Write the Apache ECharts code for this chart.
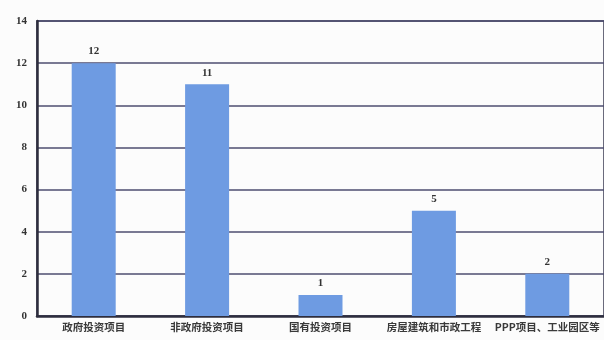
<!DOCTYPE html>
<html>
<head>
<meta charset="utf-8">
<script src="https://cdn.jsdelivr.net/npm/echarts@6/dist/echarts.min.js"></script>
<style>
  html, body { margin: 0; padding: 0; background: #fcfcfc; }
  #chart { width: 604px; height: 340px; }
</style>
</head>
<body>
<div id="chart"></div>
<script>
// Project counts by category
const categories = ['政府投资项目', '非政府投资项目', '国有投资项目', '房屋建筑和市政工程', 'PPP项目、工业园区等'];
const counts = [12, 11, 1, 5, 2];
const yTicks = [0, 2, 4, 6, 8, 10, 12, 14];

const chart = echarts.init(document.getElementById('chart'), null, { renderer: 'canvas' });

chart.setOption({
  backgroundColor: '#fcfcfc',
  animation: false,
  grid: {
    left: 37, right: -1, top: 21, bottom: 24,
    show: true,
    borderColor: '#3a3a52',
    borderWidth: 1.5,
    backgroundColor: 'transparent'
  },
  xAxis: {
    type: 'category',
    data: categories,
    axisLine: { lineStyle: { color: '#2e2e3e', width: 2.5 } },
    axisTick: { show: false },
    axisLabel: {
      color: '#3a3a3a',
      fontFamily: 'Noto Sans CJK SC',
      fontWeight: 'bold',
      fontSize: 10.5,
      margin: 6,
      interval: 0
    }
  },
  yAxis: {
    type: 'value',
    min: yTicks[0],
    max: yTicks[yTicks.length - 1],
    interval: 2,
    axisLine: { show: true, lineStyle: { color: '#2e2e3e', width: 2.5 } },
    axisTick: { show: false },
    axisLabel: {
      color: '#333',
      fontFamily: 'Liberation Serif',
      fontWeight: 'bold',
      fontSize: 11,
      margin: 10
    },
    splitLine: { lineStyle: { color: '#4e4e70', width: 1.6 } }
  },
  series: [{
    type: 'bar',
    data: counts,
    barWidth: 44,
    itemStyle: { color: '#6e9be2' },
    label: {
      show: true,
      position: 'top',
      distance: 6,
      color: '#333',
      fontFamily: 'Liberation Serif',
      fontWeight: 'bold',
      fontSize: 11
    }
  }]
});
</script>
</body>
</html>
